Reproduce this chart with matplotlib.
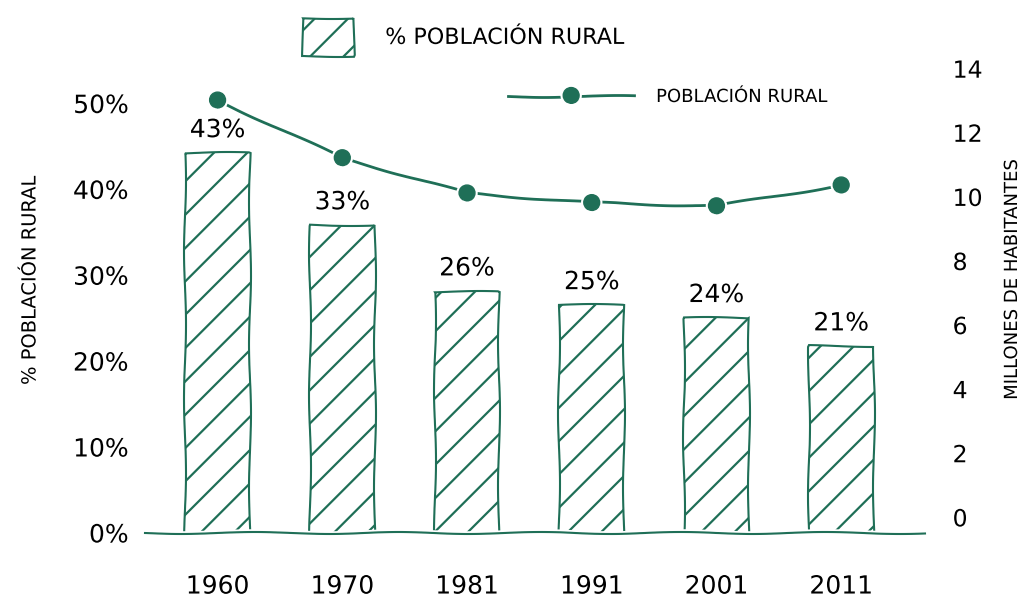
import matplotlib
matplotlib.use('Agg')
import matplotlib.pyplot as plt
import numpy as np

GREEN = '#1f6f57'

# Data
years = ['1960', '1970', '1981', '1991', '2001', '2011']
pct_rural = [44.2, 35.8, 28.1, 26.5, 25.0, 21.7]          # bar heights (%)
pct_labels = ['43%', '33%', '26%', '25%', '24%', '21%']   # labels written on bars
millones = [13.0, 11.2, 10.1, 9.8, 9.7, 10.35]            # millions of inhabitants
left_ticks = [0, 10, 20, 30, 40, 50]
right_ticks = [0, 2, 4, 6, 8, 10, 12, 14]

# Hand-drawn look
plt.xkcd(scale=1, length=150, randomness=1.5)
plt.rcParams['font.family'] = ['DejaVu Sans']
plt.rcParams['hatch.color'] = GREEN
plt.rcParams['hatch.linewidth'] = 1.6

fig = plt.figure(figsize=(10.23, 6.09), dpi=100)
ax = fig.add_axes([0.142, 0.125, 0.762, 0.763])
x = np.arange(len(years))

bars = ax.bar(x, pct_rural, width=0.52, color='white', edgecolor=GREEN,
              hatch='/', linewidth=1.5)
for xi, v, lab in zip(x, pct_rural, pct_labels):
    ax.annotate(lab, (xi, v), xytext=(0, 8), textcoords='offset points',
                ha='center', va='bottom', fontsize=18, color='black')

ax.set_xlim(-0.58, 5.67)
ax.set_ylim(0, 54.1)
ax.set_yticks(left_ticks, [f'{t}%' for t in left_ticks])
ax.set_xticks(x, years)
ax.tick_params(axis='y', length=0, pad=12, labelsize=18)
ax.tick_params(axis='x', length=0, pad=30, labelsize=18)
for side in ('left', 'right', 'top'):
    ax.spines[side].set_visible(False)
ax.spines['bottom'].set_color(GREEN)
ax.spines['bottom'].set_linewidth(1.5)

# Secondary axis: rural population in millions
ax2 = ax.twinx()
line, = ax2.plot(x, millones, color=GREEN, lw=2, marker='o', ms=11)
ax2.set_ylim(-0.5, 14)
ax2.set_yticks(right_ticks)
ax2.tick_params(axis='y', length=0, pad=20, labelsize=17)
for side in ax2.spines:
    ax2.spines[side].set_visible(False)

# Legends
fig.legend(handles=[bars], labels=['% POBLACIÓN RURAL'], loc='center left',
           bbox_to_anchor=(303 / 1023, 1 - 37 / 609), frameon=False,
           handlelength=2.3, handleheight=2.3, handletextpad=1.4,
           fontsize=16, borderpad=0, borderaxespad=0)
fig.legend(handles=[line], labels=['POBLACIÓN RURAL'], loc='center left',
           bbox_to_anchor=(508 / 1023, 1 - 97 / 609), frameon=False,
           handlelength=7, handletextpad=1.2, fontsize=13,
           borderpad=0, borderaxespad=0)

# Axis titles
fig.text(30 / 1023, 1 - 280 / 609, '% POBLACIÓN RURAL', rotation=90,
         ha='center', va='center', fontsize=14)
fig.text(1012 / 1023, 1 - 280 / 609, 'MILLONES DE HABITANTES', rotation=90,
         ha='center', va='center', fontsize=13)

fig.savefig('out.png', dpi=100)
plt.close(fig)
